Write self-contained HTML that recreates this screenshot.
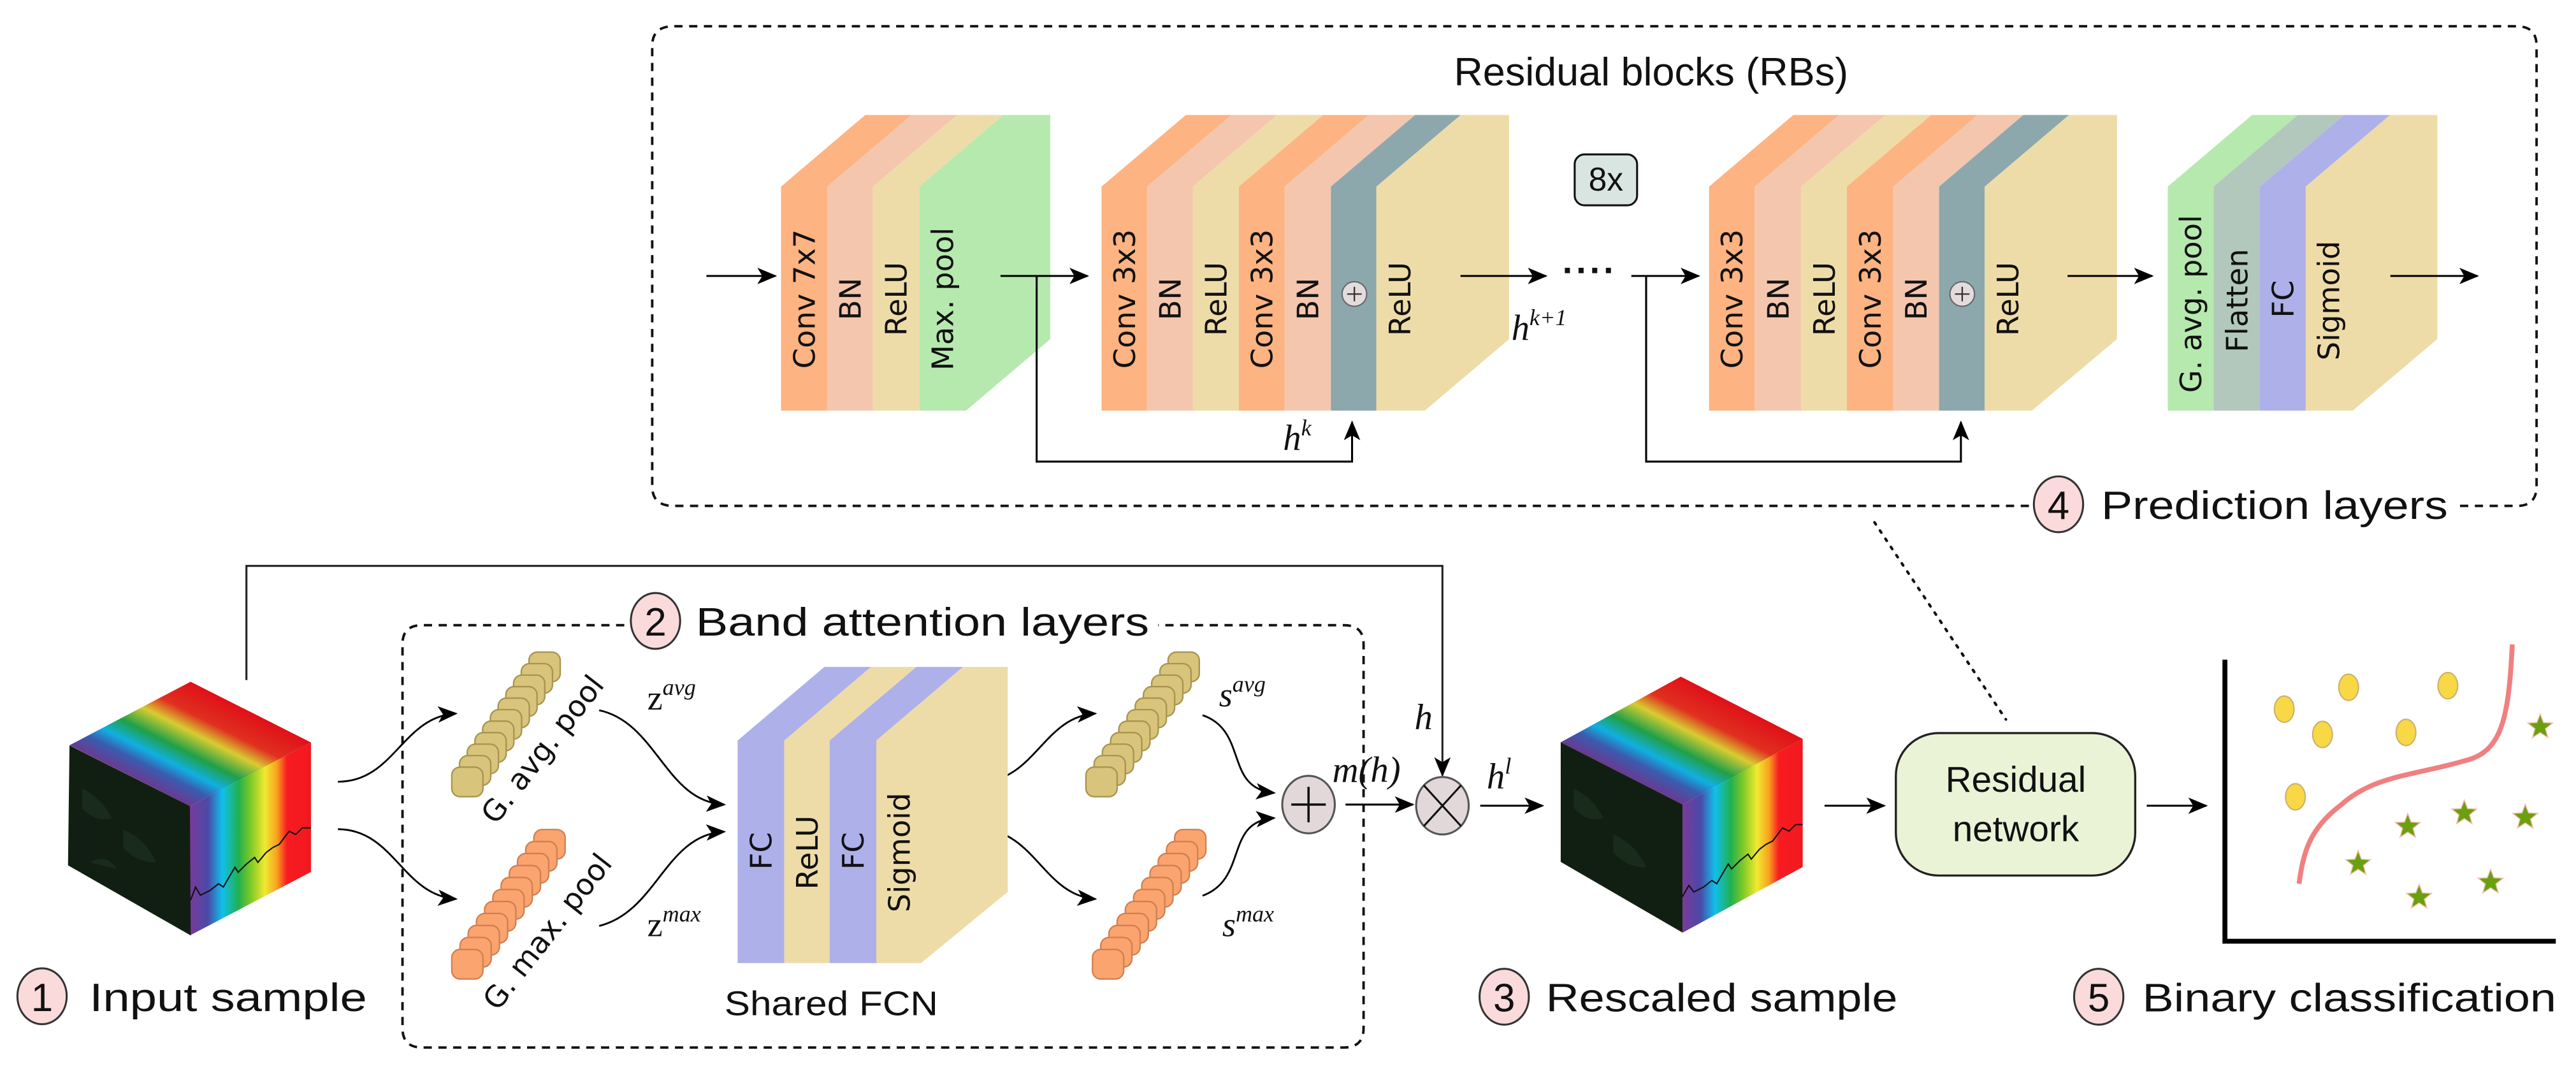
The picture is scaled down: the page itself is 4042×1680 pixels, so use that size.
<!DOCTYPE html>
<html><head><meta charset="utf-8"><style>
html,body{margin:0;padding:0;background:#fff;}
svg{display:block;}
.lt{font-family:"DejaVu Sans",sans-serif;font-size:18px;fill:#111;}
.big{font-family:"Liberation Sans",sans-serif;font-size:24px;fill:#111;}
.m{font-family:"Liberation Serif",serif;font-style:italic;fill:#111;}
</style></head><body>
<svg width="4042" height="1680" viewBox="0 0 1568 652" preserveAspectRatio="none" xmlns="http://www.w3.org/2000/svg">
<defs>
<marker id="ar" markerUnits="userSpaceOnUse" markerWidth="12" markerHeight="10" refX="11" refY="5" orient="auto"><path d="M0,0 L12,5 L0,10 L3,5Z" fill="#000"/></marker>
<linearGradient id="rb" x1="0" y1="0" x2="1" y2="0">
<stop offset="0" stop-color="#7a3a9a"/><stop offset="0.15" stop-color="#4a4aa8"/><stop offset="0.27" stop-color="#10c0ec"/><stop offset="0.4" stop-color="#20b050"/><stop offset="0.5" stop-color="#7cc828"/><stop offset="0.62" stop-color="#f0ea30"/><stop offset="0.72" stop-color="#f8a020"/><stop offset="0.8" stop-color="#f81c20"/><stop offset="1" stop-color="#f01820"/>
</linearGradient>
<linearGradient id="rbt" x1="0" y1="0" x2="1" y2="0">
<stop offset="0" stop-color="#6a3a90"/><stop offset="0.15" stop-color="#3a5cb0"/><stop offset="0.27" stop-color="#10b0e0"/><stop offset="0.42" stop-color="#20a048"/><stop offset="0.6" stop-color="#d8cc30"/><stop offset="0.75" stop-color="#e03020"/><stop offset="1" stop-color="#e01018"/>
</linearGradient>
<path id="star" d="M0,-8 L2,-2.75 L7.61,-2.47 L3.23,1.05 L4.7,6.47 L0,3.4 L-4.7,6.47 L-3.23,1.05 L-7.61,-2.47 L-2,-2.75Z" fill="#6aa010" stroke="#f4c0b0" stroke-width="0.6"/>
</defs>

<path d="M1235,308 L410,308 Q397,308 397,296 L397,28 Q397,16 410,16 L1532,16 Q1544,16 1544,28 L1544,296 Q1544,308 1532,308 L1497,308" fill="none" stroke="#111" stroke-width="1.5" stroke-dasharray="5,4"/>
<text x="1005" y="52" class="big" font-size="23" text-anchor="middle" textLength="240" lengthAdjust="spacingAndGlyphs">Residual blocks (RBs)</text>

<polygon points="475.4,250 475.4,113.6 526.7,70 554.8,70 503.5,113.6 503.5,250" fill="#FDB382"/>
<polygon points="503.5,250 503.5,113.6 554.8,70 582.6,70 531.3,113.6 531.3,250" fill="#F4C6AE"/>
<polygon points="531.3,250 531.3,113.6 582.6,70 610.8,70 559.5,113.6 559.5,250" fill="#EEDCA8"/>
<polygon points="559.5,250 559.5,113.6 610.8,70 639.3,70 639.3,206.4 588,250" fill="#B6E9AE"/>
<g class="lt">
<text transform="translate(489.4,182) rotate(-90)" text-anchor="middle" dy="0.36em">Conv 7x7</text>
<text transform="translate(517.4,182) rotate(-90)" text-anchor="middle" dy="0.36em">BN</text>
<text transform="translate(545.4,182) rotate(-90)" text-anchor="middle" dy="0.36em">ReLU</text>
<text transform="translate(573.7,182) rotate(-90)" text-anchor="middle" dy="0.36em">Max. pool</text>
</g>

<polygon points="670.5,250 670.5,113.6 721.8,70 749.5,70 698.2,113.6 698.2,250" fill="#FDB382"/>
<polygon points="698.2,250 698.2,113.6 749.5,70 777.3,70 726,113.6 726,250" fill="#F4C6AE"/>
<polygon points="726,250 726,113.6 777.3,70 805.4,70 754.1,113.6 754.1,250" fill="#EEDCA8"/>
<polygon points="754.1,250 754.1,113.6 805.4,70 833.2,70 781.9,113.6 781.9,250" fill="#FDB382"/>
<polygon points="781.9,250 781.9,113.6 833.2,70 861.4,70 810.1,113.6 810.1,250" fill="#F4C6AE"/>
<polygon points="810.1,250 810.1,113.6 861.4,70 889.1,70 837.8,113.6 837.8,250" fill="#8CA8AD"/>
<polygon points="837.8,250 837.8,113.6 889.1,70 918.6,70 918.6,206.4 867.3,250" fill="#EEDCA8"/>
<g class="lt">
<text transform="translate(684.4,182) rotate(-90)" text-anchor="middle" dy="0.36em">Conv 3x3</text>
<text transform="translate(712.1,182) rotate(-90)" text-anchor="middle" dy="0.36em">BN</text>
<text transform="translate(740,182) rotate(-90)" text-anchor="middle" dy="0.36em">ReLU</text>
<text transform="translate(768,182) rotate(-90)" text-anchor="middle" dy="0.36em">Conv 3x3</text>
<text transform="translate(796,182) rotate(-90)" text-anchor="middle" dy="0.36em">BN</text>
<text transform="translate(852,182) rotate(-90)" text-anchor="middle" dy="0.36em">ReLU</text>
</g>
<circle cx="824.4" cy="179" r="7.5" fill="#E4DCDC" stroke="#666" stroke-width="0.8"/>
<path d="M820,179 H828.8 M824.4,174.6 V183.4" stroke="#333" stroke-width="0.9"/>

<polygon points="1040.3,250 1040.3,113.6 1091.6,70 1119.4,70 1068.1,113.6 1068.1,250" fill="#FDB382"/>
<polygon points="1068.1,250 1068.1,113.6 1119.4,70 1147.7,70 1096.4,113.6 1096.4,250" fill="#F4C6AE"/>
<polygon points="1096.4,250 1096.4,113.6 1147.7,70 1175.5,70 1124.2,113.6 1124.2,250" fill="#EEDCA8"/>
<polygon points="1124.2,250 1124.2,113.6 1175.5,70 1203.7,70 1152.4,113.6 1152.4,250" fill="#FDB382"/>
<polygon points="1152.4,250 1152.4,113.6 1203.7,70 1231.6,70 1180.3,113.6 1180.3,250" fill="#F4C6AE"/>
<polygon points="1180.3,250 1180.3,113.6 1231.6,70 1259.4,70 1208.1,113.6 1208.1,250" fill="#8CA8AD"/>
<polygon points="1208.1,250 1208.1,113.6 1259.4,70 1288.6,70 1288.6,206.4 1236.8,250" fill="#EEDCA8"/>
<g class="lt">
<text transform="translate(1054.2,182) rotate(-90)" text-anchor="middle" dy="0.36em">Conv 3x3</text>
<text transform="translate(1082.2,182) rotate(-90)" text-anchor="middle" dy="0.36em">BN</text>
<text transform="translate(1110.3,182) rotate(-90)" text-anchor="middle" dy="0.36em">ReLU</text>
<text transform="translate(1138.3,182) rotate(-90)" text-anchor="middle" dy="0.36em">Conv 3x3</text>
<text transform="translate(1166.3,182) rotate(-90)" text-anchor="middle" dy="0.36em">BN</text>
<text transform="translate(1222,182) rotate(-90)" text-anchor="middle" dy="0.36em">ReLU</text>
</g>
<circle cx="1194.4" cy="179" r="7.5" fill="#E4DCDC" stroke="#666" stroke-width="0.8"/>
<path d="M1190,179 H1198.8 M1194.4,174.6 V183.4" stroke="#333" stroke-width="0.9"/>

<polygon points="1319.5,250 1319.5,113.6 1370.8,70 1398.7,70 1347.4,113.6 1347.4,250" fill="#B6E9AE"/>
<polygon points="1347.4,250 1347.4,113.6 1398.7,70 1426.9,70 1375.6,113.6 1375.6,250" fill="#B2C8BC"/>
<polygon points="1375.6,250 1375.6,113.6 1426.9,70 1454.8,70 1403.5,113.6 1403.5,250" fill="#AEB0EA"/>
<polygon points="1403.5,250 1403.5,113.6 1454.8,70 1483.6,70 1483.6,206.4 1432.1,250" fill="#EEDCA8"/>
<g class="lt">
<text transform="translate(1333.5,185) rotate(-90)" text-anchor="middle" dy="0.36em">G. avg. pool</text>
<text transform="translate(1361.5,183) rotate(-90)" text-anchor="middle" dy="0.36em">Flatten</text>
<text transform="translate(1389.5,182) rotate(-90)" text-anchor="middle" dy="0.36em">FC</text>
<text transform="translate(1417.5,183) rotate(-90)" text-anchor="middle" dy="0.36em">Sigmoid</text>
</g>

<g stroke="#000" stroke-width="1.2" fill="none">
<line x1="430" y1="168" x2="472" y2="168" marker-end="url(#ar)"/>
<line x1="609" y1="168" x2="662" y2="168" marker-end="url(#ar)"/>
<polyline points="631,168 631,281 823,281 823,257" marker-end="url(#ar)"/>
<line x1="889" y1="168" x2="941" y2="168" marker-end="url(#ar)"/>
<line x1="993" y1="168" x2="1034" y2="168" marker-end="url(#ar)"/>
<polyline points="1002,168 1002,281 1193.6,281 1193.6,257" marker-end="url(#ar)"/>
<line x1="1258.5" y1="168" x2="1310" y2="168" marker-end="url(#ar)"/>
<line x1="1455" y1="168" x2="1508" y2="168" marker-end="url(#ar)"/>
</g>
<text x="951" y="172" font-family="Liberation Sans" font-size="22" font-weight="bold" fill="#111" letter-spacing="1">····</text>
<text x="781" y="274" class="m" font-size="22">h<tspan font-size="14" dy="-9">k</tspan></text>
<text x="920" y="207" class="m" font-size="22">h<tspan font-size="14" dy="-9">k+1</tspan></text>
<rect x="958.5" y="94" width="38" height="31" rx="6" fill="#D9E5E1" stroke="#111" stroke-width="1.2"/>
<text x="977.5" y="116" font-family="Liberation Sans" font-size="20" text-anchor="middle" fill="#111">8x</text>

<ellipse cx="1253" cy="307" rx="15" ry="17" fill="#FADADA" stroke="#333" stroke-width="1.2"/>
<text x="1253" y="316" class="big" text-anchor="middle">4</text>
<text x="1279" y="316" class="big" textLength="211" lengthAdjust="spacingAndGlyphs">Prediction layers</text>
<line x1="1141" y1="318" x2="1221" y2="438" stroke="#111" stroke-width="1.6" stroke-dasharray="1.5,4.5" stroke-linecap="round"/>

<polyline points="150,414 150,344.5 878,344.5 878,472" fill="none" stroke="#222" stroke-width="1.2" marker-end="url(#ar)"/>

<path d="M380,380.6 L257,380.6 Q245,380.6 245,392 L245,626 Q245,637.7 257,637.7 L818,637.7 Q830,637.7 830,626 L830,392 Q830,380.6 818,380.6 L705,380.6" fill="none" stroke="#111" stroke-width="1.5" stroke-dasharray="5,4"/>
<ellipse cx="399" cy="378" rx="15" ry="17" fill="#FADADA" stroke="#333" stroke-width="1.2"/>
<text x="399" y="387" class="big" text-anchor="middle">2</text>
<text x="423.5" y="387" class="big" textLength="276" lengthAdjust="spacingAndGlyphs">Band attention layers</text>

<g>
<rect x="0" y="0" width="1" height="1" fill="url(#rbt)" transform="matrix(73.7,-38.7,-73.3,-37,115.6,490.7)"/>
<rect x="0" y="0" width="1" height="1" fill="url(#rb)" transform="matrix(73.7,-38.7,0,78.8,115.6,490.7)"/>
<polygon points="42.3,453.8 115.6,490.7 116.1,569.5 41.4,526.8" fill="#111f12"/>
<path d="M50,480 q12,6 18,18 q-10,3 -18,-6z M75,505 q14,6 20,20 q-12,0 -20,-9z M55,525 q10,-6 16,4" fill="#1c3020" opacity="0.7"/>
<polyline points="116,548 119,540 122,545 128,542 133,538 136,540 140,533 143,528 145,531 150,526 155,522 157,525 162,519 166,516 170,514 173,510 176,506 180,508 184,504 189.3,504" fill="none" stroke="#111" stroke-width="0.8"/>
</g>
<ellipse cx="25.6" cy="606.5" rx="15" ry="17" fill="#FADADA" stroke="#333" stroke-width="1.2"/>
<text x="25.6" y="615.5" class="big" text-anchor="middle">1</text>
<text x="54.4" y="615.5" class="big" textLength="169" lengthAdjust="spacingAndGlyphs">Input sample</text>

<g fill="none" stroke="#000" stroke-width="1.1">
<path d="M205.7,475.9 C240,476 245,436 277.6,434.4" marker-end="url(#ar)"/>
<path d="M205.7,504.8 C240,505 245,545 277.6,547.3" marker-end="url(#ar)"/>
<path d="M364.7,432.4 C400,440 405,488 440.9,489.8" marker-end="url(#ar)"/>
<path d="M364.7,563.7 C400,555 405,508 440.9,506.3" marker-end="url(#ar)"/>
<path d="M596,476 C630,476 635,436 666.8,434.4" marker-end="url(#ar)"/>
<path d="M596,504.8 C630,505 635,545 666.8,547.3" marker-end="url(#ar)"/>
<path d="M732,435.4 C760,445 745,480 775.6,482.7" marker-end="url(#ar)"/>
<path d="M732,545.3 C760,535 745,500 775.6,498" marker-end="url(#ar)"/>
</g>

<g stroke-width="0.9">
<g fill="#D9C47C" stroke="#A8944E">
<rect x="322" y="397" width="19" height="18" rx="5"/><rect x="317.3" y="404" width="19" height="18" rx="5"/><rect x="312.6" y="411" width="19" height="18" rx="5"/><rect x="307.9" y="418" width="19" height="18" rx="5"/><rect x="303.2" y="425" width="19" height="18" rx="5"/><rect x="298.5" y="432" width="19" height="18" rx="5"/><rect x="293.8" y="439" width="19" height="18" rx="5"/><rect x="289.1" y="446" width="19" height="18" rx="5"/><rect x="284.4" y="453" width="19" height="18" rx="5"/><rect x="279.7" y="460" width="19" height="18" rx="5"/><rect x="275" y="467" width="19" height="18" rx="5"/>
</g>
<g fill="#FBA46F" stroke="#D08050">
<rect x="325" y="505" width="19" height="18" rx="5"/><rect x="320" y="512.3" width="19" height="18" rx="5"/><rect x="315" y="519.6" width="19" height="18" rx="5"/><rect x="310" y="526.9" width="19" height="18" rx="5"/><rect x="305" y="534.2" width="19" height="18" rx="5"/><rect x="300" y="541.5" width="19" height="18" rx="5"/><rect x="295" y="548.8" width="19" height="18" rx="5"/><rect x="290" y="556.1" width="19" height="18" rx="5"/><rect x="285" y="563.4" width="19" height="18" rx="5"/><rect x="280" y="570.7" width="19" height="18" rx="5"/><rect x="275" y="578" width="19" height="18" rx="5"/>
</g>
<g fill="#D9C47C" stroke="#A8944E">
<rect x="711" y="397" width="19" height="18" rx="5"/><rect x="706" y="404" width="19" height="18" rx="5"/><rect x="701" y="411" width="19" height="18" rx="5"/><rect x="696" y="418" width="19" height="18" rx="5"/><rect x="691" y="425" width="19" height="18" rx="5"/><rect x="686" y="432" width="19" height="18" rx="5"/><rect x="681" y="439" width="19" height="18" rx="5"/><rect x="676" y="446" width="19" height="18" rx="5"/><rect x="671" y="453" width="19" height="18" rx="5"/><rect x="666" y="460" width="19" height="18" rx="5"/><rect x="661" y="467" width="19" height="18" rx="5"/>
</g>
<g fill="#FBA46F" stroke="#D08050">
<rect x="715" y="505" width="19" height="18" rx="5"/><rect x="710" y="512.3" width="19" height="18" rx="5"/><rect x="705" y="519.6" width="19" height="18" rx="5"/><rect x="700" y="526.9" width="19" height="18" rx="5"/><rect x="695" y="534.2" width="19" height="18" rx="5"/><rect x="690" y="541.5" width="19" height="18" rx="5"/><rect x="685" y="548.8" width="19" height="18" rx="5"/><rect x="680" y="556.1" width="19" height="18" rx="5"/><rect x="675" y="563.4" width="19" height="18" rx="5"/><rect x="670" y="570.7" width="19" height="18" rx="5"/><rect x="665" y="578" width="19" height="18" rx="5"/>
</g>
</g>
<g class="lt" font-size="17">
<text transform="translate(330,456) rotate(-52)" text-anchor="middle" dy="0.36em">G. avg. pool</text>
<text transform="translate(333,567) rotate(-52)" text-anchor="middle" dy="0.36em">G. max. pool</text>
</g>
<text x="394" y="432" font-family="Liberation Serif" font-size="21" fill="#111">z<tspan class="m" font-size="14" dy="-9">avg</tspan></text>
<text x="394" y="570" font-family="Liberation Serif" font-size="21" fill="#111">z<tspan class="m" font-size="14" dy="-9">max</tspan></text>
<text x="742" y="430" class="m" font-size="21">s<tspan font-size="14" dy="-9">avg</tspan></text>
<text x="744" y="570" class="m" font-size="21">s<tspan font-size="14" dy="-9">max</tspan></text>

<polygon points="449,586.3 449,450.8 501.8,406 530.2,406 477.4,450.8 477.4,586.3" fill="#AEB0EA"/>
<polygon points="477.4,586.3 477.4,450.8 530.2,406 557.8,406 505,450.8 505,586.3" fill="#EEDCA8"/>
<polygon points="505,586.3 505,450.8 557.8,406 586.2,406 533.4,450.8 533.4,586.3" fill="#AEB0EA"/>
<polygon points="533.4,586.3 533.4,450.8 586.2,406 613.4,406 613.4,543 560.6,586.3" fill="#EEDCA8"/>
<g class="lt">
<text transform="translate(463.2,518) rotate(-90)" text-anchor="middle" dy="0.36em">FC</text>
<text transform="translate(491.2,519) rotate(-90)" text-anchor="middle" dy="0.36em">ReLU</text>
<text transform="translate(519.2,518) rotate(-90)" text-anchor="middle" dy="0.36em">FC</text>
<text transform="translate(547.2,519) rotate(-90)" text-anchor="middle" dy="0.36em">Sigmoid</text>
</g>
<text x="506" y="618" font-family="Liberation Sans" font-size="21" text-anchor="middle" fill="#111" textLength="130" lengthAdjust="spacingAndGlyphs">Shared FCN</text>

<ellipse cx="796.5" cy="489.8" rx="16" ry="17.5" fill="#E2D8DA" stroke="#555" stroke-width="1.2"/>
<path d="M786,489.8 H807 M796.5,479 V500.6" stroke="#111" stroke-width="1.4"/>
<text x="811" y="476" class="m" font-size="22">m(h)</text>
<line x1="819" y1="489.8" x2="860" y2="489.8" stroke="#000" stroke-width="1.2" marker-end="url(#ar)"/>
<ellipse cx="878" cy="490.5" rx="16" ry="17.5" fill="#E2D8DA" stroke="#555" stroke-width="1.2"/>
<path d="M866.7,478.1 L889.3,502.9 M889.3,478.1 L866.7,502.9" stroke="#111" stroke-width="1.2"/>
<text x="861" y="444" class="m" font-size="22">h</text>
<line x1="901" y1="490.5" x2="939" y2="490.5" stroke="#000" stroke-width="1.2" marker-end="url(#ar)"/>
<text x="905" y="480" class="m" font-size="22">h<tspan font-size="14" dy="-9">l</tspan></text>

<g>
<rect x="0" y="0" width="1" height="1" fill="url(#rbt)" transform="matrix(73.1,-40,-74.2,-37.9,1024.2,489.8)"/>
<rect x="0" y="0" width="1" height="1" fill="url(#rb)" transform="matrix(73.1,-40,0,78,1024.2,489.8)"/>
<polygon points="950,451.9 1024.2,489.8 1024.2,567.8 950,524.7" fill="#111f12"/>
<path d="M958,480 q12,6 18,18 q-10,3 -18,-6z M982,508 q14,6 20,20 q-12,0 -20,-9z" fill="#1c3020" opacity="0.7"/>
<polyline points="1024,546 1028,539 1031,543 1037,540 1042,536 1045,538 1049,531 1052,526 1054,529 1059,524 1064,520 1066,523 1071,517 1075,514 1079,512 1082,508 1085,504 1089,506 1093,502 1097.3,502" fill="none" stroke="#111" stroke-width="0.8"/>
</g>
<ellipse cx="915.6" cy="606.8" rx="15" ry="17" fill="#FADADA" stroke="#333" stroke-width="1.2"/>
<text x="915.6" y="615.8" class="big" text-anchor="middle">3</text>
<text x="941" y="615.8" class="big" textLength="214" lengthAdjust="spacingAndGlyphs">Rescaled sample</text>

<line x1="1110.6" y1="490.5" x2="1147" y2="490.5" stroke="#000" stroke-width="1.2" marker-end="url(#ar)"/>
<rect x="1154" y="446.3" width="145.7" height="86.7" rx="26" fill="#EBF3D7" stroke="#222" stroke-width="1.3"/>
<text x="1227" y="482" font-family="Liberation Sans" font-size="22" text-anchor="middle" fill="#111">Residual</text>
<text x="1227" y="512" font-family="Liberation Sans" font-size="22" text-anchor="middle" fill="#111">network</text>
<line x1="1306.7" y1="490.5" x2="1343" y2="490.5" stroke="#000" stroke-width="1.2" marker-end="url(#ar)"/>

<path d="M1354.3,401.6 V573 H1555.7" fill="none" stroke="#000" stroke-width="3"/>
<path d="M1529.2,392.3 C1527,440 1522,458 1500,463.2 C1470,472 1445,472 1425,490 C1405,505 1402,520 1399.4,538" fill="none" stroke="#F08080" stroke-width="3"/>
<g fill="#F8D844" stroke="#C8B070" stroke-width="0.8">
<ellipse cx="1390.4" cy="431.7" rx="6" ry="8"/><ellipse cx="1429.6" cy="418.4" rx="6" ry="8"/><ellipse cx="1490" cy="417.4" rx="6" ry="8"/><ellipse cx="1413.7" cy="447.1" rx="6" ry="8"/><ellipse cx="1464.5" cy="445.9" rx="6" ry="8"/><ellipse cx="1397.2" cy="485.1" rx="6" ry="8"/>
</g>
<use href="#star" x="1546.2" y="442.6"/><use href="#star" x="1500" y="495"/><use href="#star" x="1537.1" y="497.6"/><use href="#star" x="1465.6" y="503.2"/><use href="#star" x="1435.4" y="525.8"/><use href="#star" x="1516" y="537.1"/><use href="#star" x="1472.5" y="546.3"/>

<ellipse cx="1277.5" cy="606.8" rx="15" ry="17" fill="#FADADA" stroke="#333" stroke-width="1.2"/>
<text x="1277.5" y="615.8" class="big" text-anchor="middle">5</text>
<text x="1304" y="615.8" class="big" textLength="252" lengthAdjust="spacingAndGlyphs">Binary classification</text>
</svg>
</body></html>
